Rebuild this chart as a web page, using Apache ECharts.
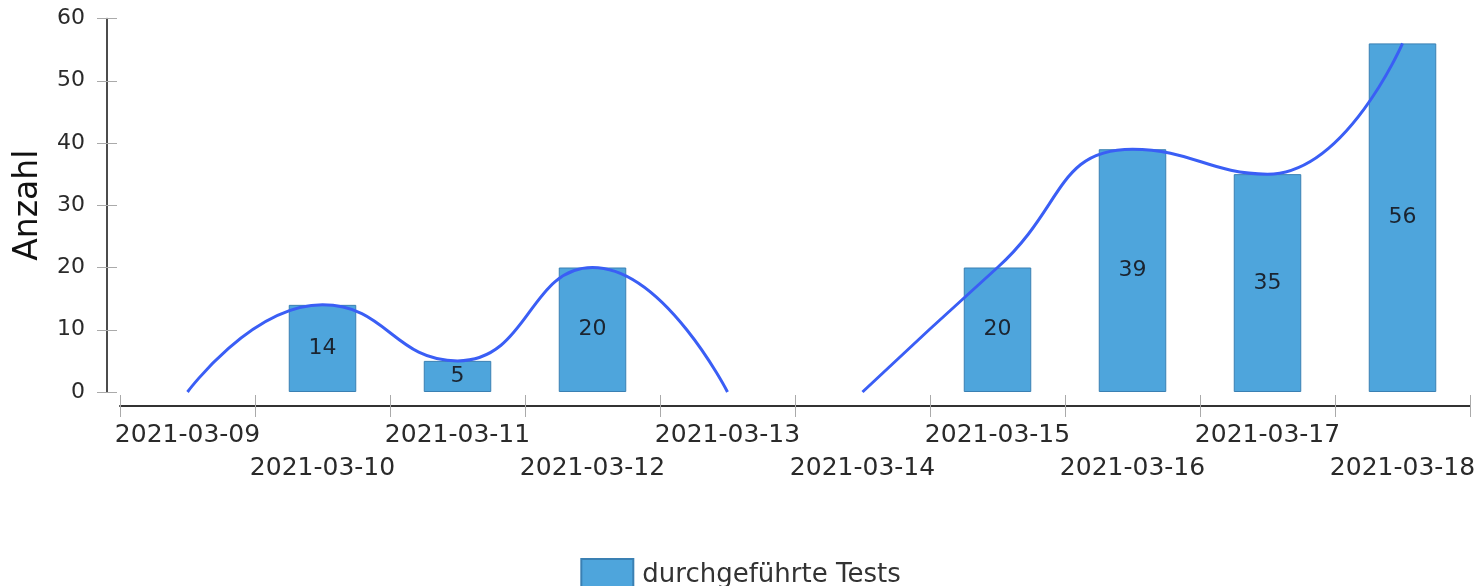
<!DOCTYPE html>
<html>
<head>
<meta charset="utf-8">
<script src="https://cdn.jsdelivr.net/npm/echarts@6/dist/echarts.min.js"></script>
<style>
  html, body { margin: 0; padding: 0; background: #fff; }
  #chart { width: 1481px; height: 586px; }
</style>
</head>
<body>
<div id="chart"></div>
<script>
const dates = ['2021-03-09', '2021-03-10', '2021-03-11', '2021-03-12', '2021-03-13',
  '2021-03-14', '2021-03-15', '2021-03-16', '2021-03-17', '2021-03-18'];
const tests = [0, 14, 5, 20, 0, 0, 20, 39, 35, 56];
// the trend line breaks between these two days
const breakIndex = 5;
const yTicks = [0, 10, 20, 30, 40, 50, 60];

const font = 'DejaVu Sans';
const chart = echarts.init(document.getElementById('chart'));

const trendA = tests.map((v, i) => (i < breakIndex ? v : '-'));
const trendB = tests.map((v, i) => (i >= breakIndex ? v : '-'));

const yMin = yTicks[0];
const yMax = yTicks[yTicks.length - 1];
const yStep = yTicks[1] - yTicks[0];

const option = {
  animation: false,
  grid: { left: 120, right: 11, top: 18.5, bottom: 194, containLabel: false },
  legend: {
    data: ['durchgeführte Tests'],
    icon: 'rect',
    left: 'center',
    top: 553,
    itemWidth: 52,
    itemHeight: 32,
    itemGap: 10,
    textStyle: { fontFamily: font, fontSize: 26, color: '#333', padding: [0, 0, 0, 4] }
  },
  xAxis: [
    {
      type: 'category',
      data: dates,
      offset: 14,
      axisLine: { onZero: false, lineStyle: { color: '#333', width: 2 } },
      axisTick: { show: true, length: 11, lineStyle: { color: '#aaa', width: 1 } },
      axisLabel: {
        interval: 0,
        margin: 13,
        fontFamily: font,
        fontSize: 25,
        lineHeight: 33,
        color: '#2a2a2a',
        formatter: (value, index) => (index % 2 ? '\n' + value : value)
      }
    },
    {
      // inner half of the crossing ticks
      type: 'category',
      data: dates,
      position: 'bottom',
      offset: 14,
      axisLine: { show: false, onZero: false },
      axisTick: { show: true, inside: true, length: 11, lineStyle: { color: '#aaa', width: 1 } },
      axisLabel: { show: false }
    }
  ],
  yAxis: [
    {
      type: 'value',
      min: yMin,
      max: yMax,
      interval: yStep,
      offset: 13,
      name: 'Anzahl',
      nameLocation: 'middle',
      nameGap: 62,
      nameTextStyle: { fontFamily: font, fontSize: 33, color: '#111' },
      axisLine: { show: true, lineStyle: { color: '#111', width: 1.5 } },
      axisTick: { show: true, length: 10, lineStyle: { color: '#aaa' } },
      axisLabel: { margin: 22, fontFamily: font, fontSize: 22, color: '#2a2a2a' },
      splitLine: { show: false }
    },
    {
      type: 'value',
      min: yMin,
      max: yMax,
      interval: yStep,
      position: 'left',
      offset: 13,
      axisLine: { show: false },
      axisTick: { show: true, inside: true, length: 10, lineStyle: { color: '#aaa' } },
      axisLabel: { show: false },
      splitLine: { show: false }
    }
  ],
  series: [
    {
      name: 'durchgeführte Tests',
      type: 'bar',
      data: tests.map(v => (v === 0 ? '-' : v)),
      barWidth: '50%',
      itemStyle: { color: '#4ea5dc', borderColor: '#3a80b3', borderWidth: 1 },
      label: {
        show: true,
        position: 'inside',
        fontFamily: font,
        fontSize: 22,
        color: '#1b2430'
      }
    },
    {
      type: 'line',
      data: trendA,
      smooth: 0.5,
      showSymbol: false,
      lineStyle: { color: '#3a5ef5', width: 3 },
      z: 3
    },
    {
      type: 'line',
      data: trendB,
      smooth: 0.5,
      showSymbol: false,
      lineStyle: { color: '#3a5ef5', width: 3 },
      z: 3
    }
  ]
};
chart.setOption(option);
</script>
</body>
</html>
